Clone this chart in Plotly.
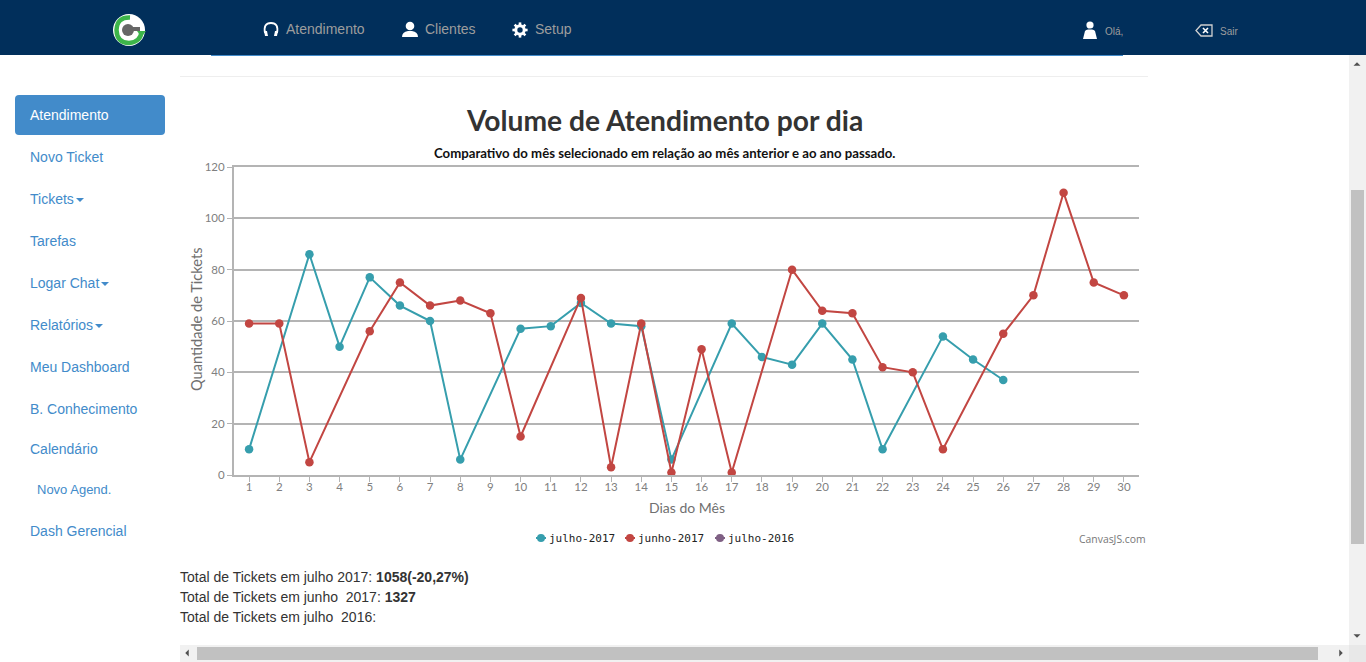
import math
import re
import plotly.graph_objs as go

# chart values (None = no point that day)
dias = list(range(1, 31))
julho_2017 = [10, None, 86, 50, 77, 66, 60, 6, None, 57, 58, 67, 59, 58, 6,
              None, 59, 46, 43, 59, 45, 10, None, 54, 45, 37, None, None, None, None]
junho_2017 = [59, 59, 5, None, 56, 75, 66, 68, 63, 15, None, 69, 3, 59, 1,
              49, 1, None, 80, 64, 63, 42, 40, 10, None, 55, 70, 110, 75, 70]
julho_2016 = []
y_ticks = [0, 20, 40, 60, 80, 100, 120]

nomes = ["julho-2017", "junho-2017", "julho-2016"]
cores = ["#369EAD", "#C24642", "#7F6084"]

menu_itens = ["Novo Ticket", "Tickets", "Tarefas", "Logar Chat", "Relatórios",
              "Meu Dashboard", "B. Conhecimento", "Calendário", "Novo Agend.", "Dash Gerencial"]

W, H = 1366, 662
AZUL = "#428bca"
NAVY = "#012f5b"
CINZA_NAV = "#9d9d9d"
CINZA_EIXO = "#b4b4b4"
ARIAL = "Liberation Sans"


def px(x):
    return x / W


def py(y):
    return 1 - y / H


def rect(x0, y0, x1, y1, color):
    return dict(type="rect", xref="paper", yref="paper", x0=px(x0), x1=px(x1), y0=py(y1), y1=py(y0),
                fillcolor=color, line=dict(width=0), layer="above")


def circle(cx, cy, r, color, line=None, lw=0):
    return dict(type="circle", xref="paper", yref="paper", x0=px(cx - r), x1=px(cx + r), y0=py(cy + r), y1=py(cy - r),
                fillcolor=color, line=dict(width=lw, color=line or color), layer="above")


def path(d, fill=None, line=None, lw=0):
    # d is written in pixel coordinates, pairs get converted to paper
    nums = iter(re.findall(r"[A-Za-z]|-?\d+\.?\d*", d))
    out = []
    is_x = True
    for tok in nums:
        if tok.isalpha():
            out.append(tok)
            is_x = True
        else:
            out.append(f"{px(float(tok)) if is_x else py(float(tok)):.5f}")
            is_x = not is_x
    return dict(type="path", xref="paper", yref="paper", path=" ".join(out),
                fillcolor=fill or "rgba(0,0,0,0)", line=dict(width=lw, color=line or "rgba(0,0,0,0)"), layer="above")


def tri(x, y, s, direction):
    if direction == "down":
        d = f"M {x-s} {y-s/2} L {x+s} {y-s/2} L {x} {y+s/2} Z"
    elif direction == "up":
        d = f"M {x-s} {y+s/2} L {x+s} {y+s/2} L {x} {y-s/2} Z"
    elif direction == "left":
        d = f"M {x+s/2} {y-s} L {x+s/2} {y+s} L {x-s/2} {y} Z"
    else:
        d = f"M {x-s/2} {y-s} L {x-s/2} {y+s} L {x+s/2} {y} Z"
    return path(d, fill="#505050")


def text(x, y, s, size=14, color="#333333", family=ARIAL, anchor="left", angle=0):
    return dict(xref="paper", yref="paper", x=px(x), y=py(y), text=s, showarrow=False, xanchor=anchor, yanchor="middle",
                font=dict(size=size, color=color, family=family), borderpad=0, borderwidth=0, textangle=angle)


def gear(cx, cy):
    shapes = [circle(cx, cy, 4.2, "rgba(0,0,0,0)", "#ffffff", 3)]
    for i in range(8):
        a = i * math.pi / 4
        d = f"M {cx+4.5*math.cos(a):.2f} {cy+4.5*math.sin(a):.2f} L {cx+7.6*math.cos(a):.2f} {cy+7.6*math.sin(a):.2f}"
        shapes.append(path(d, line="#ffffff", lw=2.6))
    return shapes


fig = go.Figure()
for nome, cor, valores in zip(nomes, cores, [julho_2017, junho_2017, julho_2016]):
    fig.add_trace(go.Scatter(
        x=dias[:len(valores)],
        y=valores,
        mode="lines+markers",
        name=nome,
        connectgaps=True,
        cliponaxis=False,
        line=dict(color=cor, width=2),
        marker=dict(color=cor, size=8.5),
    ))

shapes = [
    # page chrome
    rect(0, 0, W, 55, NAVY),
    rect(211, 55, 1123, 56, AZUL),
    rect(180, 76, 1148, 77, "#eeeeee"),
    path("M 19 95 L 161 95 Q 165 95 165 99 L 165 131 Q 165 135 161 135 L 19 135 Q 15 135 15 131 L 15 99 Q 15 95 19 95 Z", fill=AZUL),
    # scrollbars
    rect(1349, 55, W, H, "#f1f1f1"),
    rect(1351, 190, 1364, 544, "#c1c1c1"),
    rect(180, 645, 1349, H, "#f1f1f1"),
    rect(197, 647, 1318, 660, "#c1c1c1"),
    rect(1349, 645, W, H, "#e8e8e8"),
    tri(1357, 64, 3.5, "up"),
    tri(1357, 636, 3.5, "down"),
    tri(187, 653, 3.5, "left"),
    tri(1341, 653, 3.5, "right"),
    # logo
    circle(129, 30, 16, "#ffffff"),
    path("M 130 17.5 Q 117 17 116.5 30 Q 117 43 129 43 Q 141 42 141.5 31", line="#3db54a", lw=4.5),
    path("M 137 31 L 146 31 L 141.5 37 Z", fill="#3db54a"),
    circle(128, 30, 6, "#666666"),
    rect(128, 27, 140, 31, "#666666"),
    # headphones
    path("M 265 33 Q 263 23 271 23 Q 279 23 277 33", line="#ffffff", lw=1.8),
    path("M 264 31 L 267 31 L 268 36 L 265 36 Z", fill="#ffffff"),
    path("M 275 31 L 278 31 L 277 36 L 274 36 Z", fill="#ffffff"),
    # user icon
    circle(410, 26, 4.3, "#ffffff"),
    path("M 402 37 Q 402 32 408 31 L 412 31 Q 418 32 418 37 Z", fill="#ffffff"),
    # ola icon
    circle(1090, 25, 3.6, "#ffffff"),
    path("M 1083 39 L 1085 31 Q 1086 29.5 1088 29.5 L 1092 29.5 Q 1094 29.5 1095 31 L 1097 39 Z", fill="#ffffff"),
    # backspace icon
    path("M 1201 25 L 1212 25 L 1212 36 L 1201 36 L 1196 30.5 Z", line="#d0d0d0", lw=1.3),
    path("M 1203 28 L 1208 33 M 1208 28 L 1203 33", line="#ffffff", lw=1.6),
    # carets
    path("M 76 198 L 84 198 L 80 202 Z", fill=AZUL),
    path("M 101 282 L 109 282 L 105 286 Z", fill=AZUL),
    path("M 95 324 L 103 324 L 99 328 Z", fill=AZUL),
]
shapes += gear(520, 30)

# legend keys next to the text, the way the original chart lays them out
legenda_x = [541, 630, 720]
for lx, cor in zip(legenda_x, cores):
    shapes.append(rect(lx - 5, 537, lx + 5, 539, cor))
    shapes.append(circle(lx, 538, 4, cor))

menu_y = [157, 199, 241, 283, 325, 367, 409, 449, 489, 531]
annotations = [
    text(664.5, 120, "<b>Volume de Atendimento por dia</b>", size=28.2, color="#333333", family="Lato", anchor="center"),
    text(664, 153, "<b>Comparativo do mês selecionado em relação ao mês anterior e ao ano passado.</b>", size=13.2,
         color="#111111", family="Lato", anchor="center"),
    text(686.5, 507, "Dias do Mês", color="#707070", family="Lato", anchor="center"),
    text(196, 320, "Quantidade de Tickets", size=14.6, color="#707070", family="Lato", anchor="center", angle=-90),
    text(286, 29, "Atendimento", color=CINZA_NAV),
    text(425, 29, "Clientes", color=CINZA_NAV),
    text(535, 29, "Setup", color=CINZA_NAV),
    text(1105, 31, "Olá,", size=10, color=CINZA_NAV),
    text(1220, 31, "Sair", size=10, color=CINZA_NAV),
    text(30, 115, "Atendimento", color="#ffffff"),
    text(180, 577, "Total de Tickets em julho 2017: <b>1058(-20,27%)</b>"),
    text(180, 597, "Total de Tickets em junho \u00a02017: <b>1327</b>"),
    text(180, 617, "Total de Tickets em julho \u00a02016:"),
    text(1146, 539, "CanvasJS.com", size=10.4, color="#777777", family="Open Sans", anchor="right"),
]
for item, my in zip(menu_itens, menu_y):
    annotations.append(text(37 if item == "Novo Agend." else 30, my, item, size=13 if item == "Novo Agend." else 14, color=AZUL))
for lx, nome in zip(legenda_x, nomes):
    annotations.append(text(lx + 8, 538, nome, size=11, color="#222222", family="DejaVu Sans Mono"))

fig.update_layout(
    width=W,
    height=H,
    margin=dict(l=0, r=0, t=0, b=0, autoexpand=False),
    paper_bgcolor="#ffffff",
    plot_bgcolor="#ffffff",
    showlegend=False,
    shapes=shapes,
    annotations=annotations,
    xaxis=dict(
        domain=[px(234), px(1139)],
        range=[0.5, 30.5],
        automargin=False,
        tickvals=dias,
        ticks="outside",
        ticklen=5,
        tickwidth=1,
        tickcolor=CINZA_EIXO,
        ticklabelstandoff=-5,
        showgrid=False,
        zeroline=False,
        showline=True,
        mirror=True,  # draws the line at 120, plotly drops that gridline
        linecolor=CINZA_EIXO,
        linewidth=2,
        tickfont=dict(family="Lato", size=11.5, color="#808080"),
    ),
    yaxis=dict(
        domain=[py(475), py(167)],
        range=[0, 120],
        automargin=False,
        tickvals=y_ticks,
        ticks="outside",
        ticklen=5,
        tickwidth=1,
        tickcolor=CINZA_EIXO,
        showgrid=True,
        gridcolor=CINZA_EIXO,
        gridwidth=2,
        zeroline=False,
        showline=True,
        linecolor=CINZA_EIXO,
        linewidth=2,
        tickfont=dict(family="Lato", size=11.5, color="#808080"),
    ),
)

fig.write_html("out.html", config={"displayModeBar": False},
               post_script="document.body.style.margin='0';document.body.style.overflow='hidden';")
